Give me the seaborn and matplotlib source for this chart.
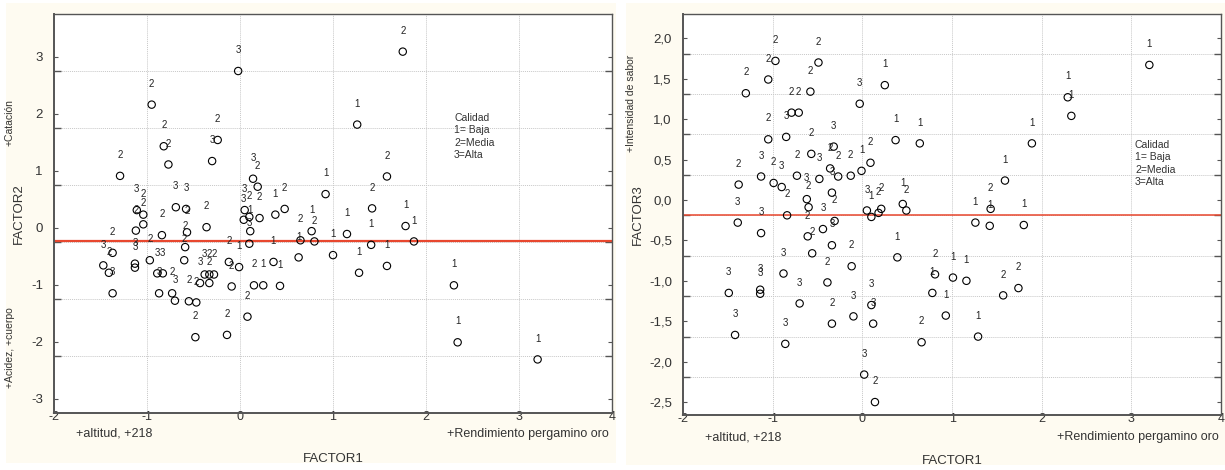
import matplotlib
matplotlib.use("Agg")
import numpy as np
import pandas as pd
import matplotlib.pyplot as plt
import seaborn as sns
from matplotlib.patches import Rectangle
from matplotlib.ticker import FixedLocator, NullFormatter

sns.set_theme(style="white")
plt.rcParams['font.family'] = ['Liberation Sans', 'DejaVu Sans']

# ---- Data: factor scores per sample, with quality class (1=Baja, 2=Media, 3=Alta)
factor1_a = [1.75, -0.02, -0.95, 1.26, -0.24, -0.82, -0.30, -0.77, -1.29, 1.58,
             0.14, 0.19, 0.92, -1.11, -1.04, -1.04, -1.12, -0.69, -0.84, -0.58,
             -0.36, -0.57, -0.59, -1.37, -1.13, -1.13, -1.47, -1.41, -1.37, -0.97,
             -0.89, -0.83, -0.87, -0.73, -0.70, -0.60, -0.55, -0.47, -0.43, -0.33,
             -0.38, -0.33, -0.28, -0.12, -0.01, -0.09, -0.48, -0.14, 0.08, 0.05,
             0.10, 0.21, 0.04, 0.11, 0.10, 0.38, 0.48, 1.42, 1.78, 1.87,
             0.65, 0.77, 0.80, 1.15, 1.41, 1.00, 0.63, 1.28, 1.58, 0.36,
             0.15, 0.25, 0.43, 2.30, 2.34, 3.20]
factor2 = [3.09, 2.75, 2.16, 1.81, 1.54, 1.43, 1.17, 1.11, 0.91, 0.90,
           0.86, 0.72, 0.59, 0.31, 0.23, 0.06, -0.05, 0.36, -0.13, 0.33,
           0.01, -0.08, -0.34, -0.44, -0.63, -0.70, -0.66, -0.79, -1.15, -0.57,
           -0.80, -0.80, -1.15, -1.15, -1.28, -0.57, -1.29, -1.31, -0.97, -0.97,
           -0.82, -0.82, -0.82, -0.60, -0.69, -1.03, -1.92, -1.88, -1.56, 0.31,
           0.19, 0.17, 0.14, -0.06, -0.28, 0.23, 0.33, 0.34, 0.03, -0.24,
           -0.22, -0.06, -0.24, -0.11, -0.30, -0.48, -0.52, -0.79, -0.67, -0.60,
           -1.01, -1.01, -1.02, -1.01, -2.01, -2.31]
calidad_a = [2, 3, 2, 1, 2, 2, 3, 2, 2, 2,
             3, 2, 1, 3, 2, 2, 2, 3, 2, 3,
             2, 2, 2, 2, 3, 3, 3, 2, 3, 2,
             3, 3, 3, 2, 3, 2, 2, 2, 3, 2,
             3, 2, 2, 2, 1, 2, 2, 2, 2, 3,
             2, 2, 3, 1, 3, 1, 2, 2, 1, 1,
             2, 1, 2, 1, 1, 1, 1, 1, 1, 1,
             2, 1, 1, 1, 1, 1]

factor1_b = [3.20, 2.29, 2.33, 1.89, 1.59, 0.25, -0.03, 0.37, 0.64, 0.09,
             -0.01, -0.13, 1.80, 1.42, 1.43, 1.26, 1.74, 1.57, 1.29, 1.16,
             1.01, 0.93, 0.81, 0.78, 0.66, 0.39, 0.45, 0.49, 0.05, 0.10,
             0.18, 0.21, -0.97, -1.05, -0.49, -0.58, -1.30, -0.79, -0.71, -0.85,
             -1.05, -0.32, -0.57, -0.27, -0.36, -0.48, -0.73, -0.62, -1.13, -1.38,
             -0.99, -0.90, -0.34, -0.84, -0.60, -1.39, -1.13, -0.61, -0.44, -0.31,
             -0.56, -0.34, -0.12, -0.39, -0.88, -0.70, -1.49, -1.14, -1.14, -1.42,
             -0.86, -0.34, -0.10, 0.10, 0.12, 0.02, 0.14]
factor3 = [1.67, 1.27, 1.04, 0.70, 0.24, 1.42, 1.19, 0.74, 0.70, 0.46,
           0.36, 0.30, -0.31, -0.32, -0.11, -0.28, -1.09, -1.18, -1.69, -1.00,
           -0.96, -1.43, -0.92, -1.15, -1.76, -0.71, -0.05, -0.13, -0.13, -0.21,
           -0.16, -0.11, 1.72, 1.49, 1.70, 1.34, 1.32, 1.08, 1.08, 0.78,
           0.75, 0.66, 0.57, 0.29, 0.39, 0.26, 0.30, 0.01, 0.29, 0.19,
           0.21, 0.16, 0.09, -0.19, -0.09, -0.28, -0.41, -0.45, -0.36, -0.26,
           -0.66, -0.56, -0.82, -1.02, -0.91, -1.28, -1.15, -1.11, -1.16, -1.67,
           -1.78, -1.53, -1.44, -1.30, -1.53, -2.16, -2.50]
calidad_b = [1, 1, 1, 1, 1, 1, 3, 1, 1, 2,
             1, 2, 1, 1, 2, 1, 2, 2, 1, 1,
             1, 1, 2, 1, 2, 1, 1, 2, 3, 1,
             2, 2, 2, 2, 2, 2, 2, 2, 2, 3,
             2, 3, 2, 2, 2, 3, 2, 3, 3, 2,
             2, 3, 3, 2, 2, 3, 3, 2, 3, 2,
             2, 3, 2, 2, 3, 3, 3, 3, 3, 3,
             3, 2, 3, 3, 3, 3, 2]

# reference lines and tick layout
ref_a = -0.24
ref_b = -0.19
grid_a = [-2.25, -1.25, -0.25, 0.75, 1.75, 2.75]
labels_a = [-3, -2, -1, 0, 1, 2, 3]
grid_b = [-2.19, -1.69, -1.19, -0.69, -0.19, 0.31, 0.81, 1.31, 1.81]
labels_b = [-2.5, -2.0, -1.5, -1.0, -0.5, 0.0, 0.5, 1.0, 1.5, 2.0]
xticks = [-2, -1, 0, 1, 2, 3, 4]

legend_txt = "Calidad\n1= Baja\n2=Media\n3=Alta"
cream = "#fefbf1"

fig = plt.figure(figsize=(12.25, 4.70), dpi=100, facecolor="white")
fig.patches.append(Rectangle((0.0049, 0.0149), 0.498, 0.979, transform=fig.transFigure,
                             facecolor=cream, edgecolor="none", zorder=-10))
fig.patches.append(Rectangle((0.511, 0.0106), 0.489, 0.983, transform=fig.transFigure,
                             facecolor=cream, edgecolor="none", zorder=-10))

ax1 = fig.add_axes([0.0441, 0.1213, 0.4555, 0.8489])
ax2 = fig.add_axes([0.5576, 0.1170, 0.4392, 0.8532])


def draw(ax, xs, ys, cls, ylim, grid_pos, lab_pos, lab_fmt, ref, ref_lw, ylabel,
         leg_xy, sub_y, title_y):
    df = pd.DataFrame({"x": xs, "y": ys, "c": cls})
    ax.set_facecolor("white")
    sns.scatterplot(data=df, x="x", y="y", ax=ax, marker="o", s=28,
                    color="none", edgecolor="black", linewidth=0.8, zorder=3)
    for x, y, c in zip(df["x"], df["y"], df["c"]):
        ax.annotate(str(c), (x, y), xytext=(0, 15), textcoords="offset points",
                    ha="center", va="center", fontsize=7, color="#222222", zorder=4)
    ax.axhline(ref, color="#e8472e", lw=ref_lw, zorder=2)
    ax.set_xlim(-2, 4)
    ax.set_ylim(*ylim)

    ax.xaxis.set_major_locator(FixedLocator(xticks))
    ax.xaxis.set_minor_locator(FixedLocator(list(np.arange(-2, 4.01, 0.25))))
    ax.set_xticklabels([str(t) for t in xticks])
    ax.tick_params(axis="x", which="major", direction="inout", length=7, pad=-5,
                   labelsize=9, colors="#333333", width=1)
    ax.tick_params(axis="x", which="minor", direction="in", length=3, width=0.8,
                   colors="#555555")

    ax.yaxis.set_major_locator(FixedLocator(grid_pos))
    ax.yaxis.set_major_formatter(NullFormatter())
    ax.yaxis.set_minor_locator(FixedLocator(lab_pos))
    ax.set_yticklabels([lab_fmt(v) for v in lab_pos], minor=True)
    ax.tick_params(axis="y", which="major", direction="in", length=5, width=1,
                   colors="#555555", right=True, left=True)
    ax.tick_params(axis="y", which="minor", direction="in", length=3, width=0.8,
                   pad=8, labelsize=9.5, labelcolor="#333333", colors="#555555",
                   right=True, left=True)

    ax.grid(True, which="major", axis="both", color="#c8c8c8", lw=0.7, ls=(0, (1, 1)))
    for side, sp in ax.spines.items():
        sp.set_visible(True)
        sp.set_color("#555555")
        sp.set_linewidth(1.4 if side in ("left", "bottom") else 1.0)

    ax.set_xlabel("")
    ax.set_ylabel(ylabel, fontsize=9.5, color="#333333", labelpad=4)
    ax.text(leg_xy[0], leg_xy[1], legend_txt, transform=ax.transAxes, fontsize=7.5,
            color="#333333", va="top", ha="left", linespacing=1.3)
    ax.text(0.04, sub_y, "+altitud, +218", transform=ax.transAxes, fontsize=9,
            color="#333333", ha="left", va="center")
    ax.text(0.995, sub_y, "+Rendimiento pergamino oro", transform=ax.transAxes,
            fontsize=9, color="#333333", ha="right", va="center")
    ax.text(0.5, title_y, "FACTOR1", transform=ax.transAxes, fontsize=9.5,
            color="#333333", ha="center", va="center")


draw(ax1, factor1_a, factor2, calidad_a, (-3.25, 3.75), grid_a, labels_a,
     lambda v: f"{v:d}", ref_a, 1.6, "FACTOR2", (0.717, 0.752), -0.052, -0.115)
draw(ax2, factor1_b, factor3, calidad_b, (-2.66, 2.30), grid_b, labels_b,
     lambda v: f"{v:.1f}".replace(".", ","), ref_b, 1.1, "FACTOR3", (0.84, 0.686),
     -0.056, -0.115)

# axis-end annotations along the vertical axes
fig.text(0.004, 0.74, "+Catación", rotation=90, fontsize=7.5, color="#333333",
         ha="left", va="center")
fig.text(0.004, 0.26, "+Acidez, +cuerpo", rotation=90, fontsize=7.5, color="#333333",
         ha="left", va="center")
fig.text(0.511, 0.78, "+Intensidad de sabor", rotation=90, fontsize=7.5,
         color="#333333", ha="left", va="center")

fig.savefig("out.png", dpi=100, facecolor="white")
